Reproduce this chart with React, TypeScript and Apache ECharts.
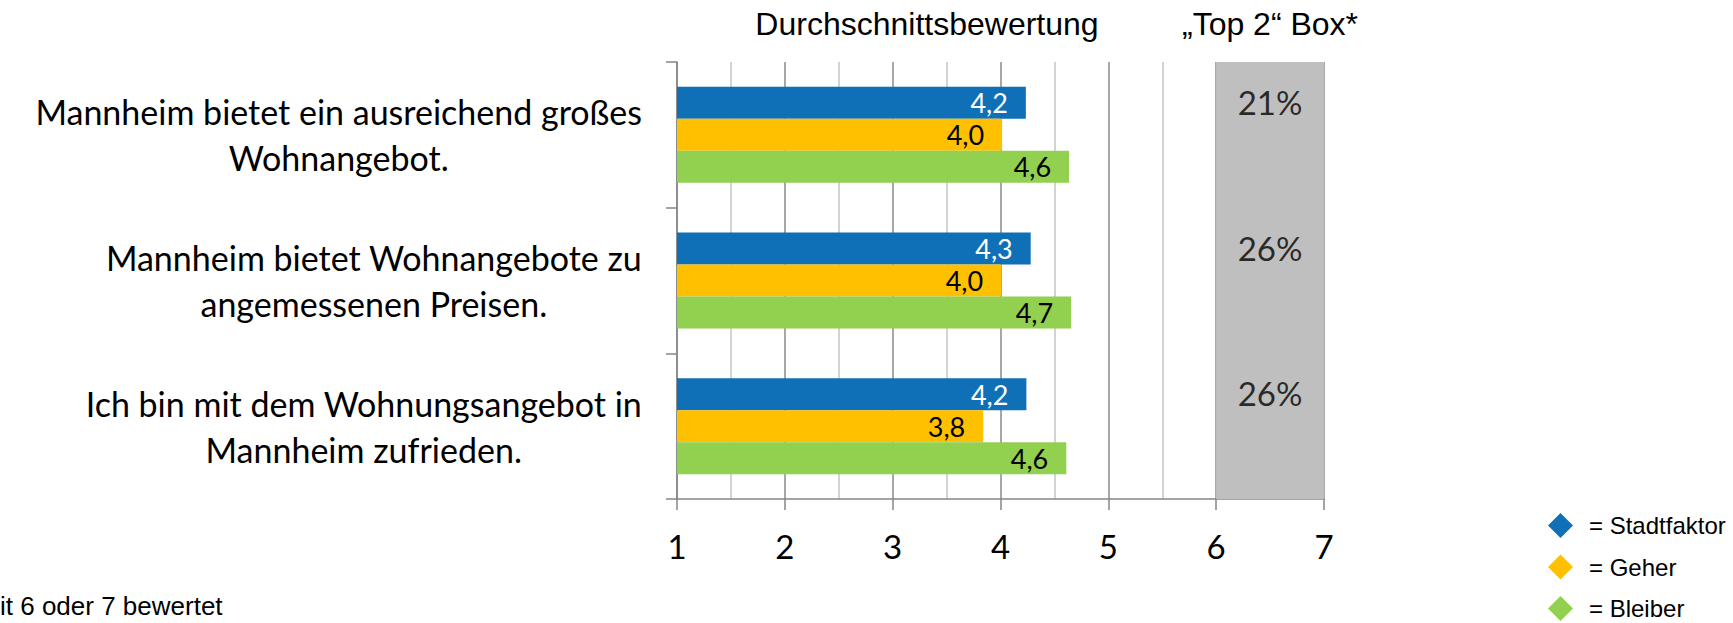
import React, { useEffect, useRef } from "react";
import * as echarts from "echarts";

const categories: string[] = [
  "Mannheim bietet ein ausreichend großes\nWohnangebot.",
  "Mannheim bietet Wohnangebote zu\nangemessenen Preisen.",
  "Ich bin mit dem Wohnungsangebot in\nMannheim zufrieden.",
];
const seriesNames: string[] = ["Stadtfaktor", "Geher", "Bleiber"];
const stadtfaktor: number[] = [4.235, 4.28, 4.24];
const geher: number[] = [4.015, 4.006, 3.84];
const bleiber: number[] = [4.636, 4.655, 4.61];
const top2Box: number[] = [21, 26, 26];
const top2Range: number[] = [6, 7];
const xTicks = { min: 1, max: 7, interval: 1 };
const headerLeft = "Durchschnittsbewertung";
const headerRight = "„Top 2“ Box*";
const footnote = "it 6 oder 7 bewertet";

const COLORS = ["#0F70B7", "#FFC000", "#92D050"];
const LABEL_COLORS = ["#ffffff", "#000000", "#000000"];
const CAL = "Lato, 'Open Sans', sans-serif";
const ARIAL = "'Liberation Sans', Arial, sans-serif";

const fmt = (v: number) => v.toFixed(1).replace(".", ",");

export default function App() {
  const ref = useRef<HTMLDivElement>(null);
  useEffect(() => {
    if (!ref.current) return;
    const chart = echarts.init(ref.current, undefined, { renderer: "svg" });
    const values = [stadtfaktor, geher, bleiber];
    const barSeries = seriesNames.map((name, si) => ({
      name,
      type: "bar",
      data: values[si],
      barWidth: 32,
      barGap: "0%",
      itemStyle: { color: COLORS[si] },
      z: 3,
      label: {
        show: true,
        position: "insideRight",
        distance: 18,
        formatter: (p: any) => fmt(p.value),
        color: LABEL_COLORS[si],
        fontFamily: CAL,
        fontSize: 27,
      },
    }));
    const option: any = {
      animation: false,
      backgroundColor: "#ffffff",
      grid: { left: 677, right: 409, top: 62, bottom: 124, containLabel: false },
      xAxis: {
        type: "value",
        min: xTicks.min,
        max: xTicks.max,
        interval: xTicks.interval,
        axisLine: { show: true, lineStyle: { color: "#868686", width: 1.5 } },
        axisTick: { show: true, length: 11, lineStyle: { color: "#868686", width: 1.5 } },
        axisLabel: { color: "#000", fontFamily: CAL, fontSize: 33, margin: 30 },
        splitLine: { show: true, lineStyle: { color: "#8a8a8a", width: 1.5 } },
        minorTick: { show: false, splitNumber: 2 },
        minorSplitLine: { show: true, lineStyle: { color: "#c4c4c4", width: 1.5 } },
      },
      yAxis: {
        type: "category",
        inverse: true,
        data: categories,
        axisLine: { show: true, lineStyle: { color: "#868686", width: 1.5 } },
        axisTick: { show: true, length: 11, lineStyle: { color: "#868686", width: 1.5 } },
        splitLine: { show: false },
        axisLabel: {
          margin: 35,
          align: "right",
          formatter: (v: string) => v.split("\n").map((l) => `{c|${l}}`).join("\n"),
          rich: {
            c: { fontFamily: CAL, fontSize: 34, lineHeight: 46, align: "center", color: "#000" },
          },
        },
      },
      legend: {
        data: seriesNames,
        orient: "vertical",
        left: 1543,
        top: 508,
        height: 160,
        icon: "diamond",
        itemWidth: 25,
        itemHeight: 25,
        itemGap: 16.5,
        formatter: (n: string) => "= " + n,
        textStyle: { fontFamily: ARIAL, fontSize: 24, color: "#000", padding: [0, 0, 0, 11] },
      },
      graphic: [
        {
          type: "text",
          x: 927,
          y: 24,
          style: { text: headerLeft, font: `32px ${ARIAL}`, fill: "#000", align: "center", verticalAlign: "middle" },
        },
        {
          type: "text",
          x: 1270,
          y: 24,
          style: { text: headerRight, font: `32px ${ARIAL}`, fill: "#000", align: "center", verticalAlign: "middle" },
        },
        {
          type: "text",
          x: 0,
          y: 606,
          style: { text: footnote, font: `26px ${ARIAL}`, fill: "#000", align: "left", verticalAlign: "middle" },
        },
      ],
      series: [
        ...barSeries,
        {
          name: "Top 2 Box",
          type: "scatter",
          symbolSize: 1,
          itemStyle: { color: "rgba(0,0,0,0)" },
          z: 2,
          data: top2Box.map((_, i) => [(top2Range[0] + top2Range[1]) / 2, categories[i]]),
          label: {
            show: true,
            position: "inside",
            offset: [0, -33],
            formatter: (p: any) => top2Box[p.dataIndex] + "%",
            color: "#000",
            fontFamily: CAL,
            fontSize: 33,
          },
          markArea: {
            silent: true,
            itemStyle: { color: "#BFBFBF" },
            data: [[{ xAxis: top2Range[0] }, { xAxis: top2Range[1] }]],
          },
        },
      ],
    };
    chart.setOption(option);
    return () => chart.dispose();
  }, []);
  return (
    <div
      ref={ref}
      style={{ position: "absolute", left: 0, top: 0, width: 1733, height: 623 }}
    />
  );
}
